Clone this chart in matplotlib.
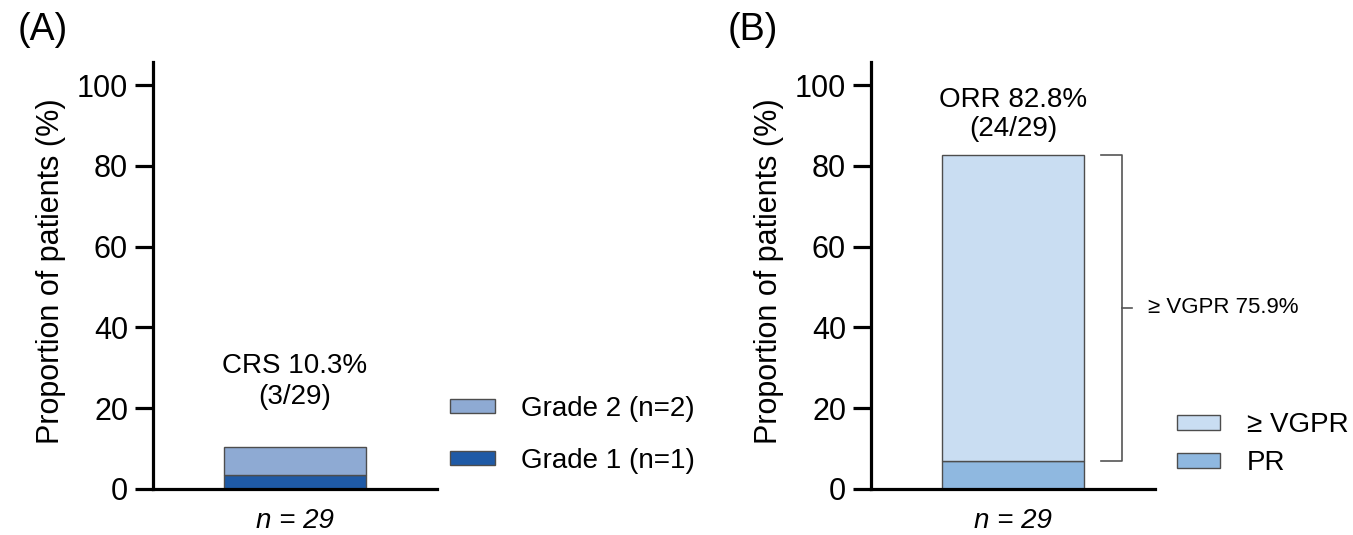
import matplotlib
matplotlib.use('Agg')
import matplotlib.pyplot as plt

plt.rcParams['font.family'] = ['Liberation Sans', 'DejaVu Sans']

# Panel A: CRS grades
crs_labels = ['Grade 1 (n=1)', 'Grade 2 (n=2)']
crs_values = [3.45, 6.9]
crs_colors = ['#1f5aa6', '#8eaad3']
crs_text = 'CRS 10.3%\n(3/29)'

# Panel B: response
resp_labels = ['PR', '\u2265 VGPR']
resp_values = [6.9, 75.9]
resp_colors = ['#8fb8e0', '#c9ddf2']
resp_text = 'ORR 82.8%\n(24/29)'
bracket_text = '\u2265 VGPR 75.9%'

yticks = [0, 20, 40, 60, 80, 100]
n_label = 'n = 29'

fig = plt.figure(figsize=(13.53, 5.35), dpi=100)
W, H = 1353, 535


def make_axes(left_px):
    ax = fig.add_axes([left_px / W, 46 / H, 284 / W, 427 / H])
    ax.set_xlim(0, 1)
    ax.set_ylim(0, 105.7)
    for s in ['top', 'right']:
        ax.spines[s].set_visible(False)
    for s in ['left', 'bottom']:
        ax.spines[s].set_linewidth(2.3)
    ax.set_yticks(yticks)
    ax.tick_params(axis='y', length=13, width=2.3, labelsize=22, pad=5)
    ax.set_xticks([])
    ax.set_ylabel('Proportion of patients (%)', fontsize=22)
    ax.yaxis.set_label_coords(-0.305, 0.51)
    ax.text(0.5, -0.075, n_label, transform=ax.transAxes, ha='center',
            va='center', fontsize=20, style='italic')
    return ax


def stack(ax, values, colors, labels):
    bottom = 0
    handles = []
    for v, c, l in zip(values, colors, labels):
        b = ax.bar(0.5, v, width=0.5, bottom=bottom, color=c,
                   edgecolor='#4d4d4d', linewidth=1, label=l)
        handles.append(b)
        bottom += v
    return handles, bottom


# Panel A
axA = make_axes(153)
hA, topA = stack(axA, crs_values, crs_colors, crs_labels)
axA.text(0.5, topA + 16.3, crs_text, ha='center', va='center', fontsize=20,
         linespacing=1.23)
axA.legend(handles=hA[::-1], labels=crs_labels[::-1], frameon=False,
           fontsize=20, loc='center left', bbox_to_anchor=(1.046, 0.1265),
           handlelength=1.62, handleheight=0.43, handletextpad=0.94,
           labelspacing=0.94, borderaxespad=0, borderpad=0)
fig.text(18 / W, 1 - 30 / H, '(A)', fontsize=27, va='center')

# Panel B
axB = make_axes(871)
hB, topB = stack(axB, resp_values, resp_colors, resp_labels)
axB.text(0.5, topB + 9.8, resp_text, ha='center', va='center', fontsize=20,
         linespacing=1.15)

# bracket for >= VGPR
lo, hi = resp_values[0], topB
mid = (lo + hi) / 2
bc = '#555555'
axB.plot([0.81, 0.884, 0.884, 0.81], [hi, hi, lo, lo], color=bc, lw=1.2,
         clip_on=False)
axB.plot([0.884, 0.92], [mid, mid], color=bc, lw=1.2, clip_on=False)
axB.text(0.975, mid, bracket_text, ha='left', va='center', fontsize=16,
         clip_on=False)

axB.legend(handles=hB[::-1], labels=resp_labels[::-1], frameon=False,
           fontsize=20, loc='center left', bbox_to_anchor=(1.077, 0.105),
           handlelength=1.55, handleheight=0.43, handletextpad=0.97,
           labelspacing=0.43, borderaxespad=0, borderpad=0)
fig.text(728 / W, 1 - 30 / H, '(B)', fontsize=27, va='center')

fig.savefig('out.png', dpi=100)
